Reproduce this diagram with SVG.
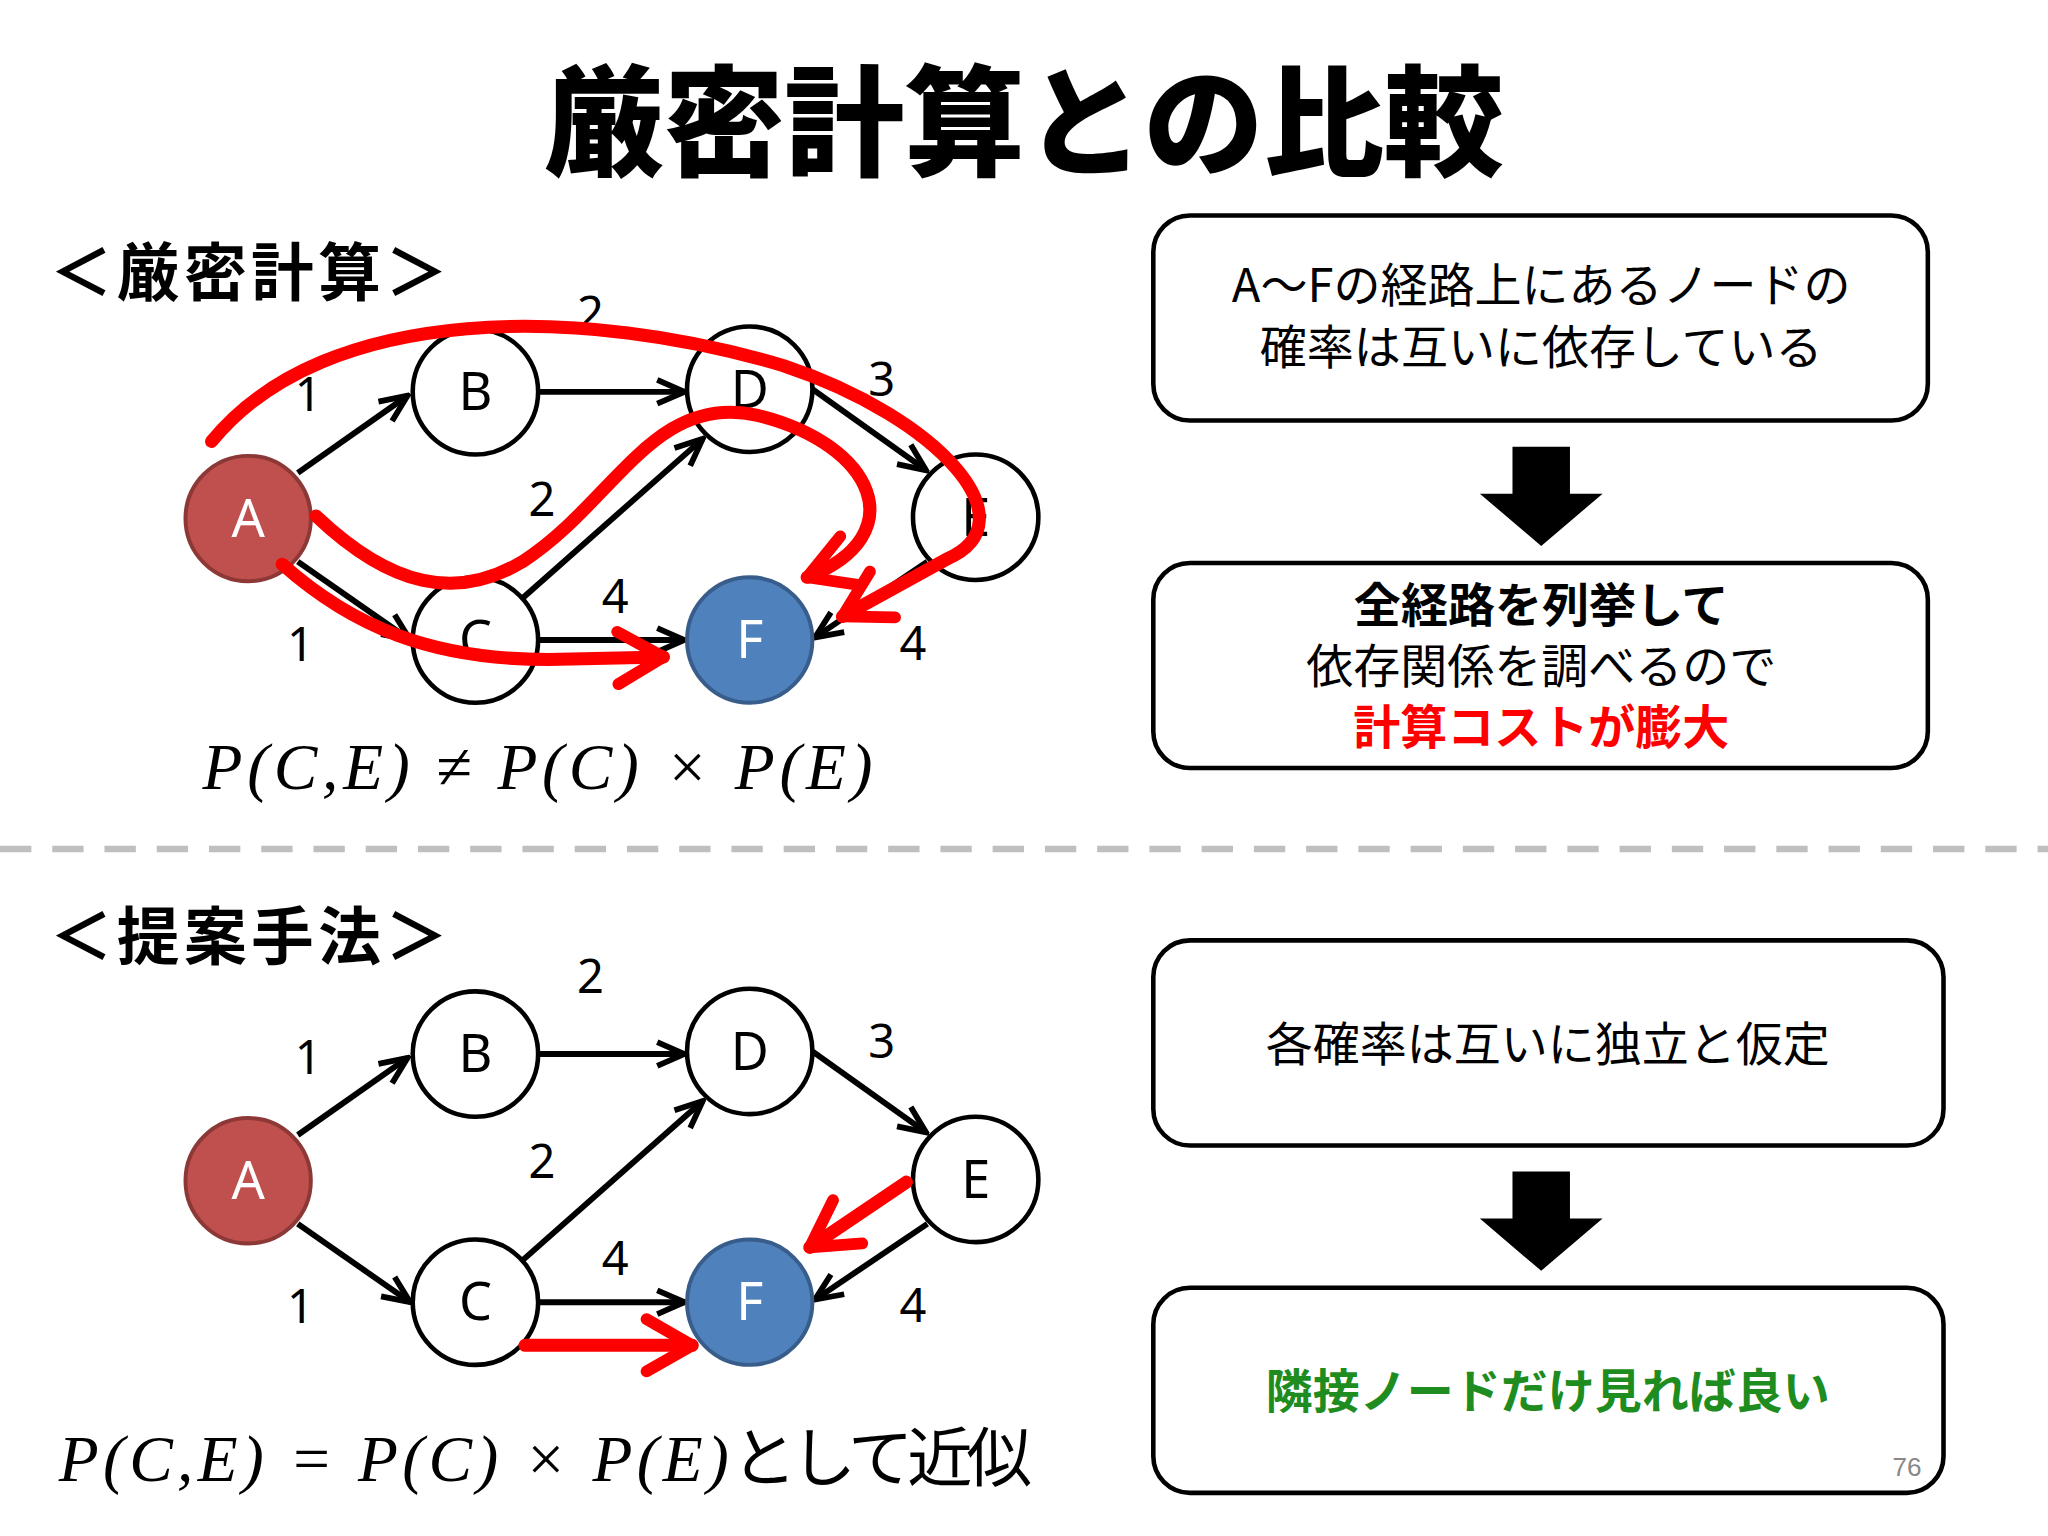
<svg xmlns="http://www.w3.org/2000/svg" width="2048" height="1536" viewBox="0 0 2048 1536">
<defs>
<style>
.jp{font-family:"Noto Sans CJK JP","Noto Sans",sans-serif}
.n{fill:#fff;stroke:#000;stroke-width:3.5}
.nl{font-family:"Noto Sans","Liberation Sans",sans-serif;font-size:40px;text-anchor:middle}
.el{font-family:"Noto Sans","Liberation Sans",sans-serif;font-size:36px;text-anchor:middle}
.e{stroke:#000;stroke-width:4.5;fill:none;marker-end:url(#ah)}
.r{stroke:#f00;stroke-width:10;fill:none;stroke-linecap:round;stroke-linejoin:round;marker-end:url(#rh)}
.box{fill:#fff;stroke:#000;stroke-width:3.5}
.bt{font-size:36px;text-anchor:middle}
.f{font-family:"Liberation Serif",serif;font-style:italic;font-size:50px}
</style>
<marker id="ah" viewBox="0 0 10 10" refX="9" refY="5" markerWidth="26" markerHeight="26" markerUnits="userSpaceOnUse" orient="auto"><path d="M1,1.5 L9,5 L1,8.5" fill="none" stroke="#000" stroke-width="1.7" stroke-linejoin="miter"/></marker>
<marker id="rh" viewBox="0 0 10 10" refX="8" refY="5" markerWidth="5" markerHeight="5" orient="auto"><path d="M1,1 L8,5 L1,9" fill="none" stroke="#f00" stroke-width="1.8" stroke-linecap="round" stroke-linejoin="round"/></marker>
</defs>
<rect width="2048" height="1536" fill="#fff"/>
<g transform="scale(1.30612)">
<text class="jp" x="784" y="128" font-size="92" font-weight="900" text-anchor="middle">厳密計算との比較</text>
<text class="jp" x="38" y="226" font-size="48" font-weight="bold" textLength="305">＜厳密計算＞</text>
<text class="jp" x="38" y="734" font-size="48" font-weight="bold" textLength="305">＜提案手法＞</text>
<line x1="0" y1="650" x2="1568" y2="650" stroke="#bfbfbf" stroke-width="5" stroke-dasharray="24 16"/>

<g id="edges-top">
<line class="e" x1="228" y1="362" x2="312" y2="303"/>
<line class="e" x1="412" y1="300" x2="524" y2="300"/>
<line class="e" x1="622" y1="298" x2="709" y2="360"/>
<line class="e" x1="228" y1="430" x2="314" y2="490"/>
<line class="e" x1="400" y1="458" x2="538" y2="336"/>
<line class="e" x1="412" y1="490" x2="524" y2="490"/>
<line class="e" x1="710" y1="430" x2="624" y2="488"/>
</g>
<g id="nodes-top">
<g id="t-A"><circle cx="190" cy="397" r="48" fill="#c0504d" stroke="#8c3836" stroke-width="3"/><text class="nl" x="190" y="411" fill="#fff">A</text></g>
<g id="t-B"><circle class="n" cx="364" cy="300" r="48"/><text class="nl" x="364" y="314">B</text></g>
<g id="t-D"><circle class="n" cx="574" cy="298" r="48"/><text class="nl" x="574" y="312">D</text></g>
<g id="t-E"><circle class="n" cx="747" cy="396" r="48"/><text class="nl" x="747" y="410">E</text></g>
<g id="t-C"><circle class="n" cx="364" cy="490" r="48"/><text class="nl" x="364" y="504">C</text></g>
<g id="t-F"><circle cx="574" cy="490" r="48" fill="#4f81bd" stroke="#385d8a" stroke-width="3"/><text class="nl" x="574" y="504" fill="#fff">F</text></g>
</g>
<g id="labels-top">
<text class="el" x="236" y="315">1</text><text class="el" x="452" y="253">2</text><text class="el" x="675" y="303">3</text>
<text class="el" x="415" y="395">2</text><text class="el" x="230" y="506">1</text><text class="el" x="471" y="469">4</text><text class="el" x="699" y="505">4</text>
</g>
<g id="red-top">
<path class="r" d="M162,338 C250,230 450,235 600,280 C720,320 790,400 725,428 L645,472"/>
<path class="r" d="M242,395 C300,450 350,460 400,430 C470,385 500,300 580,318 C670,340 700,410 618,442"/>
<path class="r" d="M216,432 C270,480 330,505 420,505 L508,503"/>
</g>
<text class="f" x="155" y="604" textLength="513" lengthAdjust="spacing">P(C,E) ≠ P(C) × P(E)</text>

<g id="edges-bot">
<line class="e" x1="228" y1="869" x2="312" y2="810"/>
<line class="e" x1="412" y1="807" x2="524" y2="807"/>
<line class="e" x1="622" y1="805" x2="709" y2="867"/>
<line class="e" x1="228" y1="937" x2="314" y2="997"/>
<line class="e" x1="400" y1="965" x2="538" y2="843"/>
<line class="e" x1="412" y1="997" x2="524" y2="997"/>
<line class="e" x1="710" y1="937" x2="624" y2="995"/>
</g>
<g id="nodes-bot">
<g id="b-A"><circle cx="190" cy="904" r="48" fill="#c0504d" stroke="#8c3836" stroke-width="3"/><text class="nl" x="190" y="918" fill="#fff">A</text></g>
<g id="b-B"><circle class="n" cx="364" cy="807" r="48"/><text class="nl" x="364" y="821">B</text></g>
<g id="b-D"><circle class="n" cx="574" cy="805" r="48"/><text class="nl" x="574" y="819">D</text></g>
<g id="b-E"><circle class="n" cx="747" cy="903" r="48"/><text class="nl" x="747" y="917">E</text></g>
<g id="b-C"><circle class="n" cx="364" cy="997" r="48"/><text class="nl" x="364" y="1011">C</text></g>
<g id="b-F"><circle cx="574" cy="997" r="48" fill="#4f81bd" stroke="#385d8a" stroke-width="3"/><text class="nl" x="574" y="1011" fill="#fff">F</text></g>
</g>
<g id="labels-bot">
<text class="el" x="236" y="822">1</text><text class="el" x="452" y="760">2</text><text class="el" x="675" y="810">3</text>
<text class="el" x="415" y="902">2</text><text class="el" x="230" y="1013">1</text><text class="el" x="471" y="976">4</text><text class="el" x="699" y="1012">4</text>
</g>
<g id="red-bot">
<path class="r" d="M694,905 L620,955"/>
<path class="r" d="M402,1030 L530,1030"/>
</g>
<text class="f" x="45" y="1134" textLength="513" lengthAdjust="spacing">P(C,E) = P(C) × P(E)</text>
<text class="jp" x="560" y="1134" font-size="50" textLength="230">として近似</text>

<g id="box1"><rect class="box" x="883" y="165" width="593" height="157" rx="28"/>
<text class="jp bt" x="1180" y="231">A～Fの経路上にあるノードの</text>
<text class="jp bt" x="1180" y="279">確率は互いに依存している</text></g>
<path d="M1158,342 H1202 V378 H1227 L1180,418 L1133,378 H1158 Z" fill="#000"/>
<g id="box2"><rect class="box" x="883" y="431" width="593" height="157" rx="28"/>
<text class="jp bt" x="1180" y="476" font-weight="bold">全経路を列挙して</text>
<text class="jp bt" x="1180" y="523">依存関係を調べるので</text>
<text class="jp bt" x="1180" y="570" font-weight="bold" fill="#f00">計算コストが膨大</text></g>
<g id="box3"><rect class="box" x="883" y="720" width="605" height="157" rx="28"/>
<text class="jp bt" x="1185" y="812">各確率は互いに独立と仮定</text></g>
<path d="M1158,897 H1202 V933 H1227 L1180,973 L1133,933 H1158 Z" fill="#000"/>
<g id="box4"><rect class="box" x="883" y="986" width="605" height="157" rx="28"/>
<text class="jp bt" x="1185" y="1078" font-weight="bold" fill="#1e8c1e">隣接ノードだけ見れば良い</text></g>
<text x="1460" y="1130" font-family="Liberation Sans,sans-serif" font-size="20" fill="#888" text-anchor="middle">76</text>
</g>
</svg>
